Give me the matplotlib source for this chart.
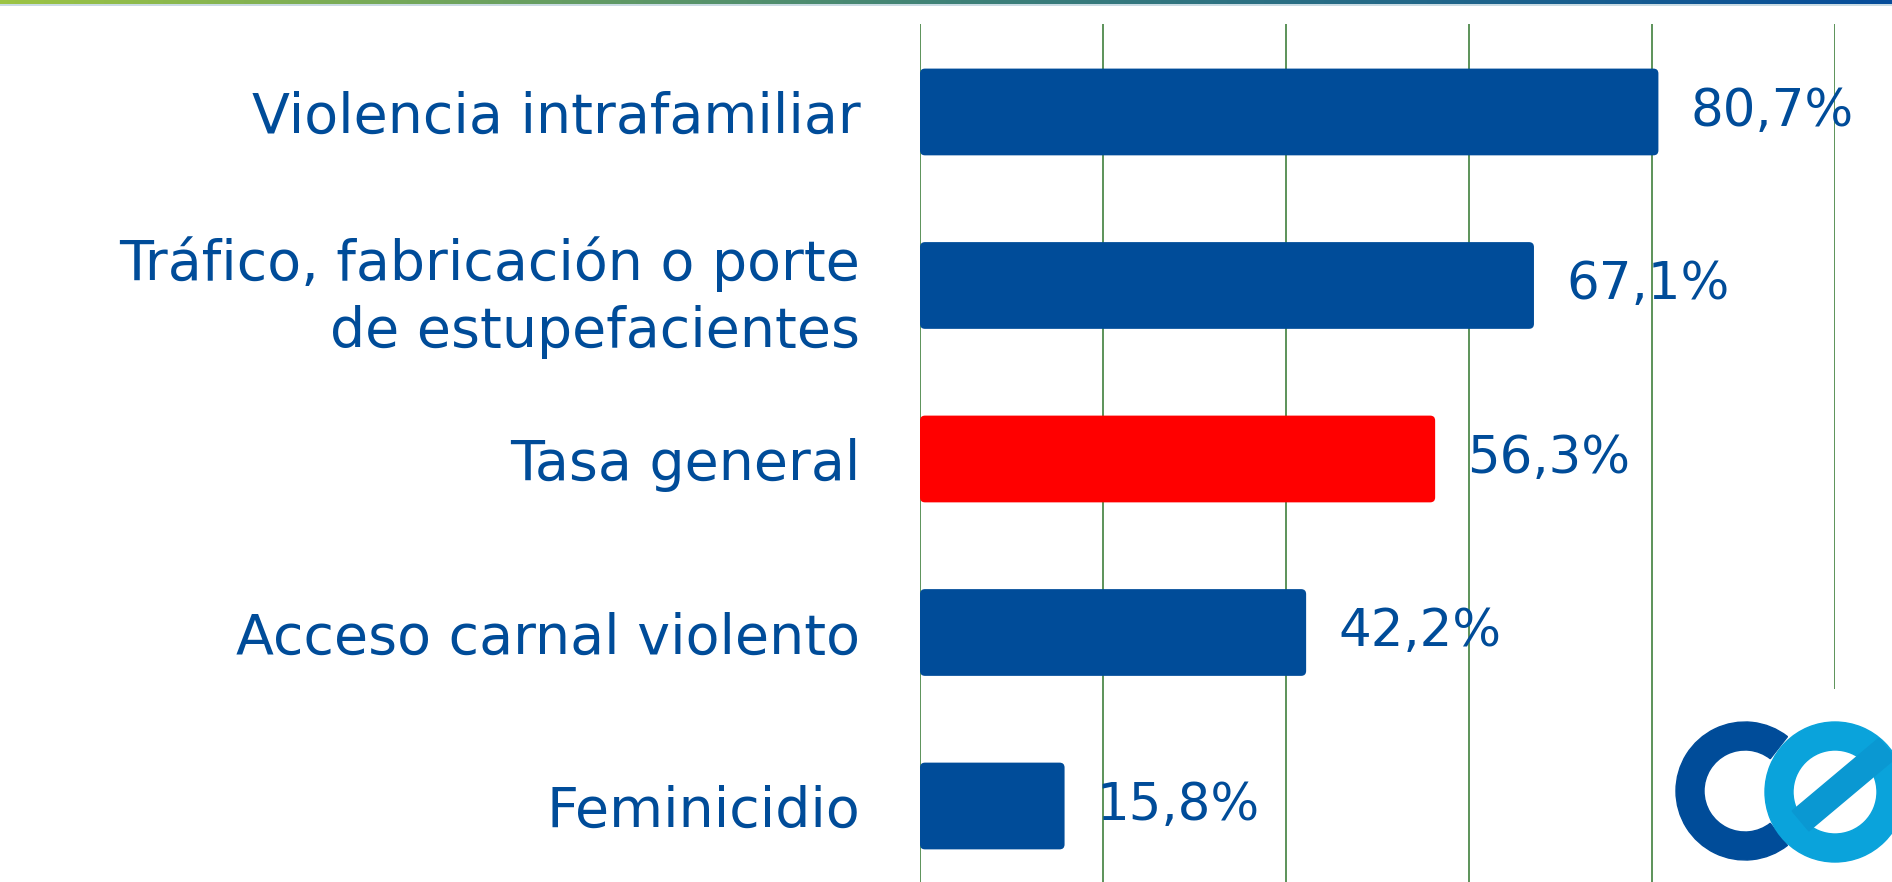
#!/usr/bin/env python3
import numpy as np
import matplotlib
matplotlib.use('agg')
import matplotlib.pyplot as plt
from matplotlib.patches import FancyBboxPatch, Wedge, Polygon
from matplotlib.colors import LinearSegmentedColormap

categorias = ['Violencia intrafamiliar',
              'Tráfico, fabricación o porte\nde estupefacientes',
              'Tasa general',
              'Acceso carnal violento',
              'Feminicidio']
valores = [80.7, 67.1, 56.3, 42.2, 15.8]
etiquetas = ['80,7%', '67,1%', '56,3%', '42,2%', '15,8%']
colores = ['#004c99', '#004c99', '#ff0000', '#004c99', '#004c99']

azul = '#004c99'
plt.rcParams['font.family'] = ['DejaVu Sans']

W, H = 1892, 882
fig = plt.figure(figsize=(W / 100, H / 100), dpi=100)

ax = fig.add_axes([920 / W, 0, (1835 - 920) / W, 1 - 24 / H])
ax.set_xlim(0, 100)
ax.set_ylim(4.438, -0.507)
for s in ax.spines.values():
    s.set_visible(False)
ax.set_xticks([0, 20, 40, 60, 80, 100])
ax.tick_params(axis='x', length=0, labelbottom=False)
ax.grid(axis='x', color='#4f8a4c', linewidth=1.3)
ax.set_axisbelow(True)

y = np.arange(len(categorias))
barras = ax.barh(y, valores, height=0.5, color=colores)
# redondear esquinas
px_x = ax.get_position().width * W / 100.0
px_y = ax.get_position().height * H / (4.438 + 0.507)
for b in barras:
    x0, y0 = b.get_x(), b.get_y()
    w, h = b.get_width(), b.get_height()
    b.set_visible(False)
    r = 5 / px_x
    p = FancyBboxPatch((x0, y0), w, h,
                       boxstyle='round,pad=0,rounding_size=%f' % r,
                       mutation_aspect=px_x / px_y,
                       facecolor=b.get_facecolor(), edgecolor='none', zorder=3)
    ax.add_patch(p)

ax.set_yticks(y)
ax.set_yticklabels(categorias, fontsize=40, color=azul, linespacing=1.3)
ax.tick_params(axis='y', length=0, pad=43)

for v, t, yy in zip(valores, etiquetas, y):
    ax.annotate(t, (v, yy), xytext=(23, 0), textcoords='offset points',
                ha='left', va='center', fontsize=37, color=azul, zorder=4)

# franja superior con degradado
top = fig.add_axes([0, 1 - 4 / H, 1, 4 / H])
cmap = LinearSegmentedColormap.from_list('franja', ['#9cc445', '#3f8277', '#064d9b'])
top.imshow(np.linspace(0, 1, 256)[None, :], aspect='auto', cmap=cmap,
           extent=[0, 1, 0, 1])
top.axis('off')
linea = fig.add_axes([0, 1 - 5.5 / H, 1, 1.5 / H])
linea.set_facecolor('#c9dbe3')
linea.set_xticks([])
linea.set_yticks([])
for s in linea.spines.values():
    s.set_visible(False)

# logo
lx0, ly1 = 1665, 193
logo = fig.add_axes([lx0 / W, 0, (W - lx0) / W, ly1 / H])
logo.set_xlim(lx0, W)
logo.set_ylim(0, ly1)
logo.set_facecolor('white')
for s in logo.spines.values():
    s.set_visible(False)
logo.set_xticks([])
logo.set_yticks([])
logo.add_patch(Wedge((1745, 91), 69, 52, 308, width=28, color='#004c99'))
ce = np.array([1835.0, 90.0])
logo.add_patch(Wedge(tuple(ce), 70, 0, 360, width=28, color='#0aa3db'))
a = np.deg2rad(40)
d = np.array([np.cos(a), np.sin(a)])
n = np.array([-np.sin(a), np.cos(a)])
pts = [ce - 45 * d + 13 * n, ce + 68 * d + 13 * n,
       ce + 68 * d - 13 * n, ce - 45 * d - 13 * n]
logo.add_patch(Polygon(pts, closed=True, color='#0a98d2'))

fig.savefig('out.png', dpi=100)
